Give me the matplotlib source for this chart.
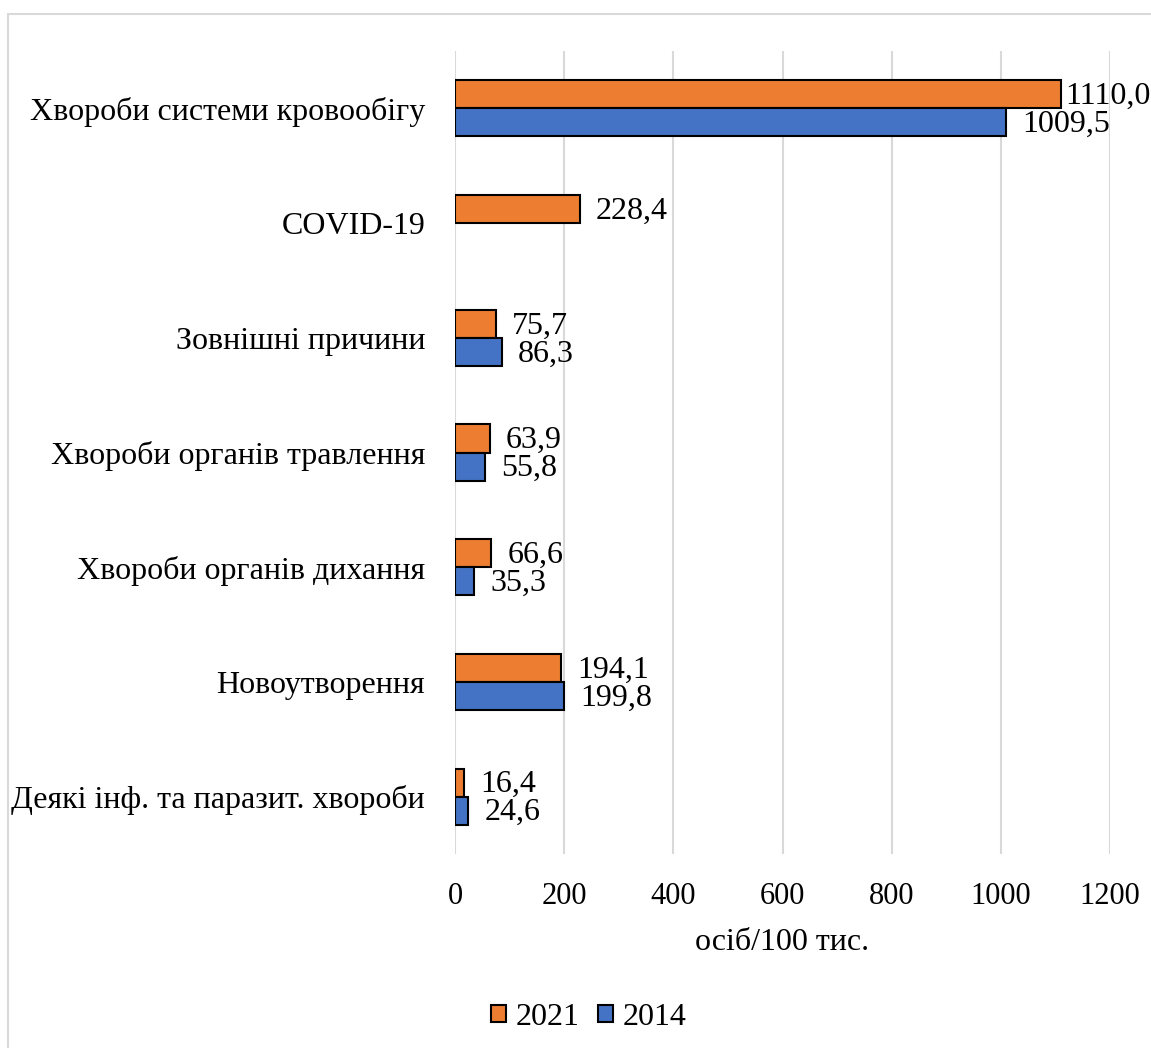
import numpy as np
import matplotlib
matplotlib.use("Agg")
import matplotlib.pyplot as plt
from matplotlib.patches import Rectangle

plt.rcParams["font.family"] = ["Liberation Serif", "DejaVu Serif"]

# Причини смерті (знизу догори на графіку)
categories = [
    "Деякі інф. та паразит. хвороби",
    "Новоутворення",
    "Хвороби органів дихання",
    "Хвороби органів травлення",
    "Зовнішні причини",
    "COVID-19",
    "Хвороби системи кровообігу",
]
values_2021 = [16.4, 194.1, 66.6, 63.9, 75.7, 228.4, 1110.0]
values_2014 = [24.6, 199.8, 35.3, 55.8, 86.3, None, 1009.5]

c2021 = "#ED7D31"
c2014 = "#4472C4"
FS = 23


def fmt(v):
    return "{:.1f}".format(v).replace(".", ",")


def label_offset(v):
    # біля правого краю підпис притискається до стовпця
    return 3 if v > 1100 else 11.5


fig = plt.figure(figsize=(11.51, 10.48), dpi=100)
ax = fig.add_axes([0.3953, 0.1851, 0.5691, 0.7662])

y = np.arange(len(categories))
h = 0.245

for i, (v21, v14) in enumerate(zip(values_2021, values_2014)):
    ax.barh(y[i] + h / 2, v21, height=h, color=c2021, edgecolor="black", linewidth=1.5, zorder=3)
    ax.annotate(fmt(v21), (v21, y[i] + h / 2), xytext=(label_offset(v21), -1.5),
                textcoords="offset points", ha="left", va="center", fontsize=FS)
    if v14 is not None:
        ax.barh(y[i] - h / 2, v14, height=h, color=c2014, edgecolor="black", linewidth=1.5, zorder=3)
        ax.annotate(fmt(v14), (v14, y[i] - h / 2), xytext=(label_offset(v14), -1.5),
                    textcoords="offset points", ha="left", va="center", fontsize=FS)

ax.set_xlim(0, 1200)
ax.set_ylim(-0.5, len(categories) - 0.5)
ax.set_xticks(np.arange(0, 1201, 200))
ax.set_yticks(y)
ax.set_yticklabels(categories, fontsize=FS)
ax.tick_params(axis="both", length=0)
ax.tick_params(axis="x", labelsize=22, pad=20)
ax.tick_params(axis="y", pad=21.5)
ax.grid(axis="x", color="#d9d9d9", linewidth=1.5, zorder=0)
for s in ax.spines.values():
    s.set_visible(False)
ax.set_xlabel("осіб/100 тис.", fontsize=FS, labelpad=12.5)

handles = [Rectangle((0, 0), 1, 1, facecolor=c2021, edgecolor="black", linewidth=1.5),
           Rectangle((0, 0), 1, 1, facecolor=c2014, edgecolor="black", linewidth=1.5)]
fig.legend(handles, ["2021", "2014"], loc="center", bbox_to_anchor=(0.5115, 0.029), ncol=2,
           frameon=False, fontsize=FS, handlelength=0.45, handleheight=0.45,
           handletextpad=0.3, columnspacing=0.6)

# рамка області діаграми
fig.patches.append(Rectangle((8 / 1151, -0.1), 1.2, 1.1 - 14 / 1048, transform=fig.transFigure,
                             fill=False, edgecolor="#d9d9d9", linewidth=1.5))

fig.savefig("out.png", dpi=100)
